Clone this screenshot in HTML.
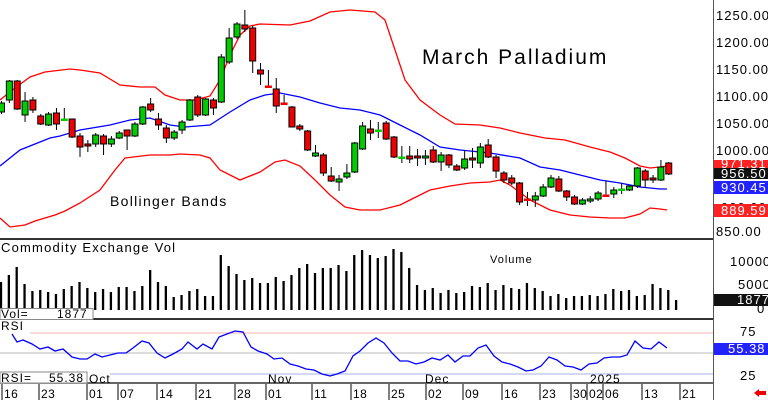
<!DOCTYPE html>
<html><head><meta charset="utf-8"><style>
body{margin:0;background:#fff}
svg{display:block;font-family:"Liberation Sans",sans-serif}
.ax{font-size:13px;letter-spacing:1px;fill:#000}
</style></head><body>
<svg width="768" height="400" viewBox="0 0 768 400" xmlns="http://www.w3.org/2000/svg">
<rect width="768" height="400" fill="#fff"/>
<!-- bands -->
<polyline fill="none" stroke="#f00" stroke-width="1.3" points="0,100 15,88 30,77 45,72 70,69 80,70 100,73 120,85 140,87 155,87 165,95 180,100 195,100 210,96 220,80 230,55 240,35 250,26 260,24 290,25 310,21 330,12 350,10 375,12 385,20 395,50 405,80 420,100 440,115 455,124 480,125 500,128 520,133 545,138 565,140 590,147 610,152 625,158 640,166 650,168 660,167 667,166"/>
<polyline fill="none" stroke="#00f" stroke-width="1.3" points="0,166 20,150 50,138 60,136 80,130 110,125 130,120 150,118 170,125 185,127 210,125 230,112 250,100 265,95 280,93 300,97 320,103 340,108 360,110 380,115 400,125 420,135 440,147 460,150 490,153 520,158 540,167 560,170 580,175 600,180 620,183 640,187 660,189 667,189"/>
<polyline fill="none" stroke="#f00" stroke-width="1.3" points="0,218 10,227 25,225 35,221 55,215 65,211 80,203 100,190 115,170 125,158 150,155 170,155 180,154 200,155 210,158 220,170 240,180 260,172 275,162 285,160 300,166 315,180 330,195 345,207 360,210 380,210 400,205 410,200 430,190 450,186 470,183 490,182 500,180 510,185 530,200 550,210 570,215 590,217 610,218 625,218 640,214 650,208 660,209 667,210"/>
<g id="c" stroke="#000" stroke-width="1"></g>
<text x="422" y="64" font-size="21" letter-spacing="2">March Palladium</text>
<text x="110" y="206" font-size="14" letter-spacing="1.3">Bollinger Bands</text>
<!-- panels -->
<line x1="0" y1="239" x2="713" y2="239" stroke="#333" stroke-width="2"/>
<line x1="0" y1="319" x2="713" y2="319" stroke="#333" stroke-width="2"/>
<line x1="0" y1="383" x2="713" y2="383" stroke="#333" stroke-width="1.5"/>
<line x1="713.5" y1="0" x2="713.5" y2="400" stroke="#555"/>
<text x="1" y="252" font-size="13" letter-spacing="1.2">Commodity Exchange Vol</text>
<text x="490" y="263" font-size="11" letter-spacing="1">Volume</text>
<g id="v" stroke="#000" stroke-width="2.3"></g>
<rect x="0" y="308.5" width="93" height="11" fill="#fff" stroke="#888"/>
<text x="1" y="318" font-size="12" letter-spacing="1">Vol=</text>
<text x="57" y="318" font-size="12" letter-spacing="1">1877</text>
<line x1="30" y1="333" x2="713" y2="333" stroke="#f7b0b0"/>
<line x1="0" y1="353" x2="713" y2="353" stroke="#bbb"/>
<line x1="110" y1="374" x2="713" y2="374" stroke="#aab0f0"/>
<text x="1" y="330" font-size="12" letter-spacing="1">RSI</text>
<polyline id="r" fill="none" stroke="#00f" stroke-width="1.3" points="12,334 17,342 23,340 32,344 40,349 48,347 55,351 63,349 72,357 80,359 87,359 95,354 102,357 110,355 118,353 126,353 133,348 142,341 149,343 157,353 165,358 173,354 182,349 188,342 197,349 203,344 212,349 219,337 227,334 235,331 243,332 251,347 258,351 267,354 274,359 282,358 290,364 298,366 306,369 314,370 322,374 330,376 337,374 345,371 353,356 360,351 368,343 376,338 384,343 392,353 400,361 408,361 416,364 424,362 432,358 440,360 448,355 455,362 463,356 470,356 478,348 486,345 494,356 502,362 510,364 518,367 526,371 533,370 541,366 549,357 557,360 565,366 573,367 581,370 589,364 597,363 604,358 612,357 620,357 627,355 635,341 643,348 651,349 659,342 667,348"/>
<rect x="0" y="372" width="87" height="11" fill="#fff" stroke="#888"/>
<text x="1" y="382" font-size="12" letter-spacing="1">RSI=</text>
<text x="49" y="382" font-size="12" letter-spacing="1">55.38</text>
<text x="89" y="383" font-size="12" letter-spacing="1">Oct</text>
<text x="268" y="383" font-size="12" letter-spacing="1">Nov</text>
<text x="425" y="383" font-size="12" letter-spacing="1">Dec</text>
<text x="590" y="383" font-size="12" letter-spacing="1">2025</text>
<g id="d" font-size="12" letter-spacing="0.5"></g>
<!-- right axis -->
<g class="ax">
<text x="716" y="20">1250.00</text><text x="716" y="47">1200.00</text><text x="716" y="74">1150.00</text><text x="716" y="101">1100.00</text><text x="716" y="128">1050.00</text><text x="716" y="155">1000.00</text><text x="716" y="236">850.00</text>
<text x="730" y="266">10000</text><text x="738" y="289">5000</text><text x="757" y="313">0</text>
<text x="740" y="336">75</text><text x="740" y="380">25</text>
</g>
<rect x="714" y="160" width="54" height="9" fill="#f22"/>
<text x="721" y="168" class="ax" fill="#fff" style="fill:#fff">971.31</text>
<rect x="714" y="168" width="54" height="11" fill="#111"/>
<text x="721" y="178" class="ax" style="fill:#fff">956.50</text>
<rect x="714" y="181" width="54" height="13" fill="#22f"/>
<text x="721" y="192" class="ax" style="fill:#fff">930.45</text>
<text x="721" y="212" class="ax">900.00</text>
<rect x="714" y="204" width="54" height="13" fill="#f22"/>
<text x="721" y="215" class="ax" style="fill:#fff">889.59</text>
<rect x="714" y="294" width="54" height="12" fill="#111"/>
<text x="737" y="304" class="ax" style="fill:#fff">1877</text>
<rect x="714" y="343" width="54" height="12" fill="#22f"/>
<text x="728" y="353" class="ax" style="fill:#fff">55.38</text>
<polygon points="754,393 759,389 759,391 766,391 766,395 759,395 759,397" fill="#e00"/>
</svg>
<script>
var ns="http://www.w3.org/2000/svg";
function el(t,a,p){var e=document.createElementNS(ns,t);for(var k in a)e.setAttribute(k,a[k]);document.getElementById(p).appendChild(e);return e;}
// [color, bodyTop, bodyBot, wickTop, wickBot]
var C=[["g",103,112,101,114],["g",81,100,80,103],["r",81,109,80,110],["g",101,115,92,122],["r",100,110,97,113],["r",116,124,114,125],["g",114,125,112,126],["r",113,124,108,130],["g",119,119,108,120],["r",119,137,119,138],["r",136,147,133,157],["r",144,146,140,152],["g",135,144,133,147],["r",136,144,134,155],["g",139,144,136,147],["g",133,138,131,139],["r",130,136,130,150],["g",124,136,122,137],["g",107,124,106,125],["r",104,110,98,112],["r",119,125,113,130],["r",128,138,125,143],["g",132,138,130,140],["g",122,130,120,134],["g",100,120,99,121],["r",97,115,95,117],["g",99,115,98,116],["r",100,108,98,115],["g",57,102,54,103],["g",38,62,28,64],["g",24,37,22,39],["r",25,29,10,32],["r",28,61,26,73],["r",70,74,63,85],["r",86,86,70,86],["r",89,106,78,113],["r",103,103,95,104],["r",107,127,106,127],["r",126,129,124,131],["r",131,150,130,151],["g",153,156,145,157],["r",155,173,153,176],["r",176,181,167,182],["g",179,182,175,191],["g",173,177,164,179],["g",143,172,142,173],["g",126,149,122,150],["r",129,133,120,140],["g",130,130,122,138],["r",123,139,121,140],["r",137,157,136,158],["g",157,157,146,163],["r",156,159,146,163],["r",156,158,149,166],["g",156,158,150,165],["r",150,162,146,163],["g",155,162,152,171],["r",155,165,154,168],["r",166,170,164,171],["g",159,168,150,170],["r",158,160,148,168],["g",147,163,143,168],["r",145,157,139,158],["r",157,171,155,178],["r",173,180,171,183],["r",178,183,175,185],["r",183,202,182,205],["r",199,199,192,206],["g",196,200,192,207],["g",187,196,184,197],["g",178,187,175,188],["r",179,191,176,192],["r",191,197,190,201],["r",197,204,195,205],["g",200,204,198,205],["g",199,201,196,203],["g",193,199,191,201],["r",195,195,181,196],["g",190,194,187,198],["g",189,189,183,194],["g",186,190,185,191],["g",168,186,167,188],["r",171,180,169,188],["r",178,180,175,183],["g",167,180,160,181],["r",163,174,162,175]];
C.forEach(function(c,i){var x=1.5+7.85*i;
el("line",{x1:x,x2:x,y1:c[3],y2:c[4]},"c");
var h=Math.max(c[2]-c[1],1.5);
el("rect",{x:x-3,y:c[1],width:6,height:h,fill:c[0]=="g"?"#0c0":"#e00","stroke-width":1,stroke:h<2?(c[0]=="g"?"#0c0":"#e00"):"#000"},"c");});
var V=[282,275,267,284,291,290,292,294,289,286,282,288,292,289,292,287,287,291,286,270,282,286,297,295,291,289,296,296,255,266,274,280,278,283,283,277,281,275,268,264,273,268,268,265,271,255,250,255,258,256,249,252,268,285,290,288,293,290,293,292,286,287,283,290,285,288,289,283,288,291,296,294,298,296,296,295,296,294,289,291,290,296,295,284,288,290,300];
V.forEach(function(t,i){var x=1+7.85*i;el("line",{x1:x,x2:x,y1:t,y2:310},"v");});
var D=[[3,"16"],[40,"23"],[88,"01"],[119,"07"],[158,"14"],[197,"21"],[236,"28"],[267,"01"],[313,"11"],[352,"18"],[390,"25"],[427,"02"],[464,"09"],[503,"16"],[541,"23"],[572,"30"],[588,"02"],[604,"06"],[643,"13"],[681,"21"]];
D.forEach(function(d){el("line",{x1:d[0]-1,x2:d[0]-1,y1:384,y2:400,stroke:"#000"},"d");var t=el("text",{x:d[0]+1,y:398},"d");t.textContent=d[1];});
</script>
</body></html>
